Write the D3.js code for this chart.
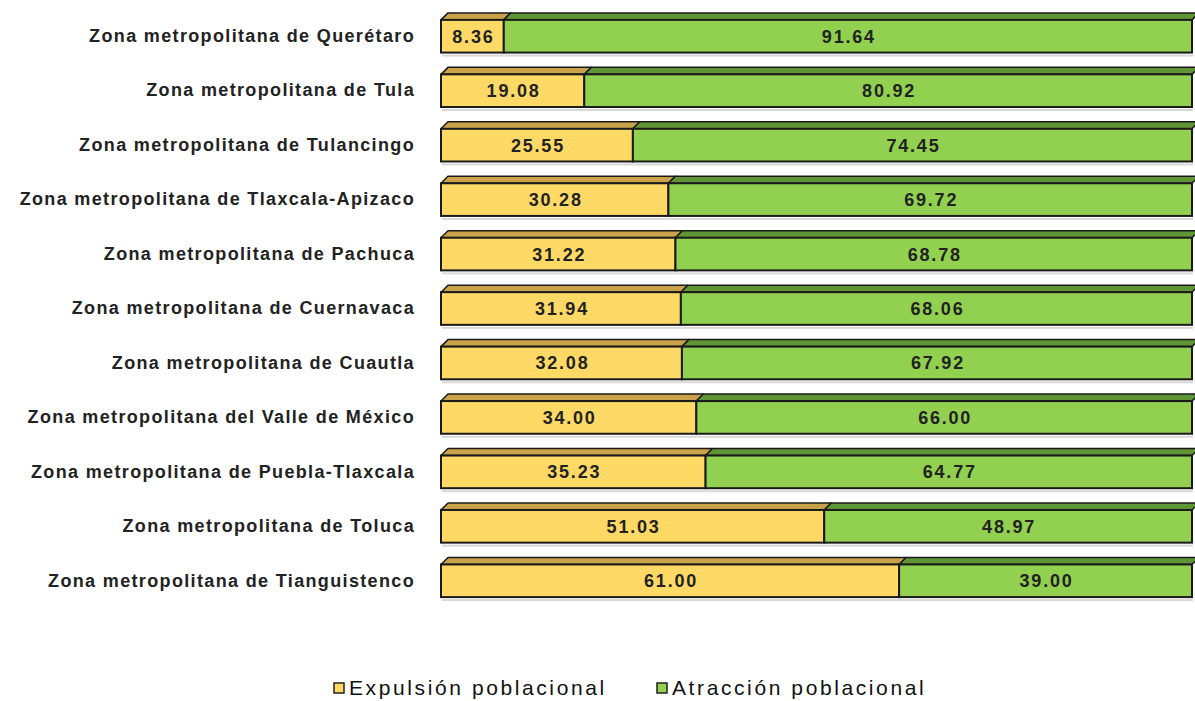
<!DOCTYPE html>
<html>
<head>
<meta charset="utf-8">
<script src="https://cdn.jsdelivr.net/npm/d3@7"></script>
<style>
  body { margin: 0; background: #fff; }
  text { font-family: "Liberation Sans", Arial, sans-serif; }
</style>
</head>
<body>
<svg id="chart" width="1195" height="701"></svg>
<script>
const zonas = [
    "Zona metropolitana de Querétaro",
    "Zona metropolitana de Tula",
    "Zona metropolitana de Tulancingo",
    "Zona metropolitana de Tlaxcala-Apizaco",
    "Zona metropolitana de Pachuca",
    "Zona metropolitana de Cuernavaca",
    "Zona metropolitana de Cuautla",
    "Zona metropolitana del Valle de México",
    "Zona metropolitana de Puebla-Tlaxcala",
    "Zona metropolitana de Toluca",
    "Zona metropolitana de Tianguistenco"
];
const expulsion = [8.36, 19.08, 25.55, 30.28, 31.22, 31.94, 32.08, 34.00, 35.23, 51.03, 61.00];
const atraccion = [91.64, 80.92, 74.45, 69.72, 68.78, 68.06, 67.92, 66.00, 64.77, 48.97, 39.00];
const seriesNames = ["Expulsión poblacional", "Atracción poblacional"];

const svg = d3.select('#chart');
const width = +svg.attr('width');
const height = +svg.attr('height');

const margin = {top: 9, right: 3, bottom: 93, left: 441};
const innerWidth = width - margin.left - margin.right;
const innerHeight = height - margin.top - margin.bottom;
const depth = 7;

const fronts = ['#ffd966', '#92d050'];
const tops = ['#c9a24a', '#5f9535'];

const data = zonas.map((z, i) => ({zona: z, vals: [expulsion[i], atraccion[i]]}));

const xScale = d3.scaleLinear().domain([0, 100]).range([0, innerWidth]);
const yScale = d3.scaleBand().domain(zonas).range([0, innerHeight]).paddingInner(0.4).paddingOuter(0.2);

const g = svg.append('g')
    .attr('transform', 'translate(' + margin.left + ',' + margin.top + ')');

const rows = g.selectAll('g.row')
    .data(data)
    .enter()
    .append('g')
    .attr('class', 'row')
    .attr('transform', d => 'translate(0,' + yScale(d.zona) + ')');

const bh = yScale.bandwidth();

rows.each(function(d) {
    const row = d3.select(this);
    let start = 0;
    d.vals.forEach((v, k) => {
        const x0 = xScale(start);
        const x1 = xScale(start + v);
        // sombra
        row.append('rect')
            .attr('x', x0 + 1).attr('y', bh + 2)
            .attr('width', x1 - x0).attr('height', 2)
            .attr('fill', '#d8d8d8');
        // cara superior
        row.append('path')
            .attr('d', `M${x0},0 L${x0 + depth},${-depth} L${x1 + depth},${-depth} L${x1},0 Z`)
            .attr('fill', tops[k])
            .attr('stroke', '#1a1a1a')
            .attr('stroke-width', 1.5)
            .attr('stroke-linejoin', 'round');
        // cara frontal
        row.append('rect')
            .attr('x', x0).attr('y', 0)
            .attr('width', x1 - x0).attr('height', bh)
            .attr('fill', fronts[k])
            .attr('stroke', '#1a1a1a')
            .attr('stroke-width', 2);
        row.append('text')
            .attr('x', (x0 + x1) / 2 + 1)
            .attr('y', bh / 2)
            .attr('dy', '0.36em')
            .attr('text-anchor', 'middle')
            .attr('font-size', 18)
            .attr('font-weight', 'bold')
            .attr('letter-spacing', 1.8)
            .attr('fill', '#222')
            .text(v.toFixed(2));
        start += v;
    });
});

// etiquetas de categorías
const yAxis = d3.axisLeft(yScale).tickSize(0).tickPadding(26);
const ax = g.append('g').call(yAxis);
ax.select('.domain').remove();
ax.selectAll('text')
    .attr('font-size', 18)
    .attr('font-weight', 'bold')
    .attr('letter-spacing', 1.35)
    .attr('fill', '#222')
    .style('font-family', '"Liberation Sans", Arial, sans-serif');

// leyenda
const legend = svg.append('g').attr('transform', 'translate(0,688)');
const legX = [334, 657];
seriesNames.forEach((n, k) => {
    legend.append('rect')
        .attr('x', legX[k]).attr('y', -5)
        .attr('width', 10).attr('height', 10)
        .attr('fill', fronts[k])
        .attr('stroke', '#222')
        .attr('stroke-width', 1.5);
    legend.append('text')
        .attr('x', legX[k] + 15)
        .attr('y', 0)
        .attr('dy', '0.35em')
        .attr('font-size', 21)
        .attr('letter-spacing', 2.6)
        .attr('fill', '#111')
        .text(n);
});
</script>
</body>
</html>
